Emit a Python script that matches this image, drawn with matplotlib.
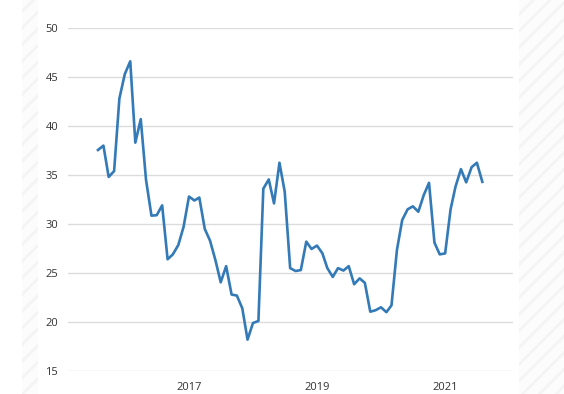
import matplotlib.pyplot as plt
import matplotlib.dates as mdates
from matplotlib.patches import Rectangle
import pandas as pd

plt.rcParams['font.family'] = ['Open Sans', 'DejaVu Sans']
plt.rcParams['hatch.linewidth'] = 2.0

# monthly values, Aug 2015 - Aug 2021
values = [37.55, 38.0, 34.8, 35.4, 42.8, 45.3, 46.6, 38.3, 40.7, 34.5,
          30.85, 30.9, 31.9, 26.4, 26.9, 27.85, 29.7, 32.8, 32.4, 32.7,
          29.5, 28.3, 26.3, 24.05, 25.7, 22.8, 22.7, 21.4, 18.2, 19.9,
          20.1, 33.6, 34.55, 32.1, 36.25, 33.3,
          25.5, 25.2, 25.3, 28.2, 27.45, 27.8, 27.0, 25.5, 24.6, 25.5,
          25.25, 25.7, 23.85, 24.45, 24.0, 21.05, 21.2, 21.5,
          21.0, 21.7, 27.35, 30.4, 31.5, 31.8, 31.25, 32.95, 34.2, 28.1,
          26.9, 27.0, 31.5, 33.8, 35.6, 34.25, 35.8, 36.25, 34.3]
dates = pd.date_range('2015-08-01', periods=len(values), freq='MS')

tick_years = ['2017', '2019', '2021']
y_ticks = [15, 20, 25, 30, 35, 40, 45, 50]

W, H = 564, 394
fig = plt.figure(figsize=(W / 100, H / 100), dpi=100)

# striped side panels
for x0, x1 in [(22, 38), (519, 564)]:
    fig.patches.append(Rectangle((x0 / W, 0), (x1 - x0) / W, 1,
                                 transform=fig.transFigure,
                                 facecolor='#fcfcfc', edgecolor='#f4f4f4',
                                 hatch='//', linewidth=0, zorder=0))

ax = fig.add_axes([68 / W, 1 - 371 / H, (513 - 68) / W, 343 / H])
ax.set_facecolor('none')

ax.plot(dates, values, color='#337ab7', linewidth=1.9, zorder=3)

ax.set_ylim(15, 50)
ax.set_yticks(y_ticks)
ax.set_xlim(pd.Timestamp('2015-02-11'), pd.Timestamp('2022-01-23'))
ax.set_xticks([pd.Timestamp(y + '-01-01') for y in tick_years])
ax.xaxis.set_major_formatter(mdates.DateFormatter('%Y'))

ax.grid(axis='y', color='#dcdcdc', linewidth=1)
ax.set_axisbelow(True)
for s in ax.spines.values():
    s.set_visible(False)
ax.tick_params(axis='both', length=0, labelsize=8, labelcolor='#333333')
ax.tick_params(axis='y', pad=7)
ax.tick_params(axis='x', pad=8)

fig.savefig('out.png', dpi=100)
